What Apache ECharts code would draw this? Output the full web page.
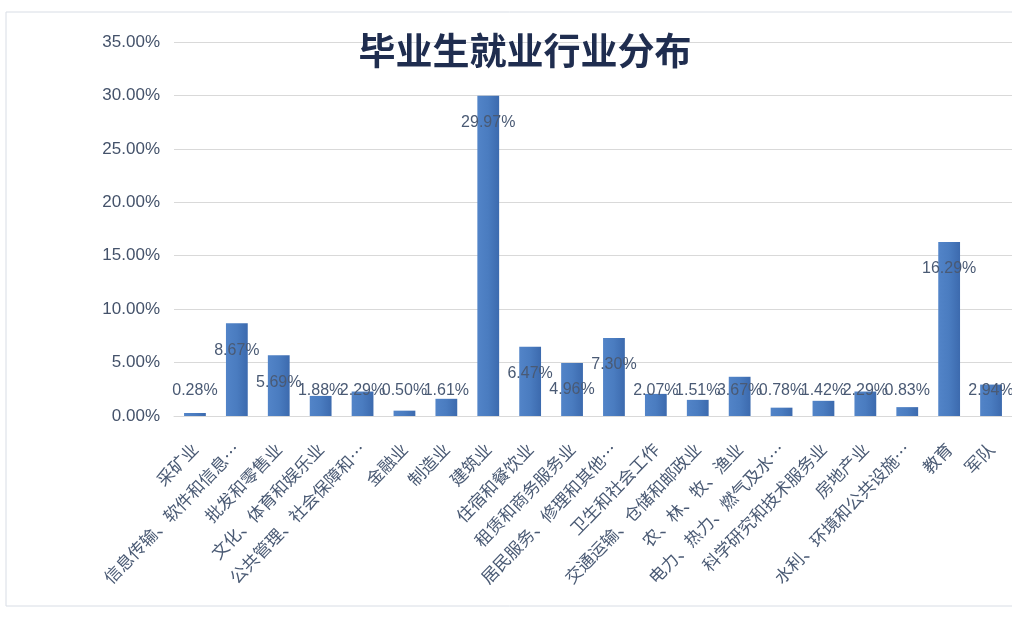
<!DOCTYPE html>
<html><head><meta charset="utf-8">
<script src="https://cdn.jsdelivr.net/npm/echarts@6/dist/echarts.min.js"></script>
<style>html,body{margin:0;padding:0;background:#fff}#c{width:1012px;height:624px}</style>
</head><body><div id="c"></div>
<script>
const categories = ['采矿业','信息传输、软件和信息…','批发和零售业','文化、体育和娱乐业','公共管理、社会保障和…','金融业','制造业','建筑业','住宿和餐饮业','租赁和商务服务业','居民服务、修理和其他…','卫生和社会工作','交通运输、仓储和邮政业','农、林、牧、渔业','电力、热力、燃气及水…','科学研究和技术服务业','房地产业','水利、环境和公共设施…','教育','军队'];
const values = [0.28,8.67,5.69,1.88,2.29,0.50,1.61,29.97,6.47,4.96,7.30,2.07,1.51,3.67,0.78,1.42,2.29,0.83,16.29,2.94];
const yTicks = {min:0, max:35, interval:5};
const title = '毕业生就业行业分布';

const chart = echarts.init(document.getElementById('c'));
const data = values.map(v => ({
  value: v,
  label: v >= 4.9 ? {position:'insideTop', distance:19} : {position:'insideBottom', distance:17}
}));
chart.setOption({
  backgroundColor:'#fff',
  animation:false,
  title:{text:title,left:520,top:27,textAlign:'center',textStyle:{fontFamily:'Noto Sans CJK SC',fontSize:37,fontWeight:'bold',color:'#1f2d4f'}},
  graphic:[{type:'rect',shape:{x:6,y:12,width:1020,height:594},style:{fill:'none',stroke:'#d8dde5',lineWidth:1},silent:true,z:-1}],
  grid:{left:174,right:-10,top:42,bottom:208,containLabel:false},
  xAxis:{type:'category',data:categories,
    axisLine:{lineStyle:{color:'#d9d9d9'}},axisTick:{show:false},
    axisLabel:{interval:0,rotate:46,margin:30,fontSize:17,color:'#4a5a74',fontFamily:'Noto Sans CJK SC'}},
  yAxis:{type:'value',min:yTicks.min,max:yTicks.max,interval:yTicks.interval,
    axisLine:{show:false},axisTick:{show:false},
    splitLine:{lineStyle:{color:'#d9d9d9'}},
    axisLabel:{fontSize:17,color:'#44526a',margin:14,fontFamily:'Liberation Sans',formatter:v=>v.toFixed(2)+'%'}},
  series:[{type:'bar',data:data,barWidth:'52%',
    itemStyle:{color:new echarts.graphic.LinearGradient(0,0,1,0,[{offset:0,color:'#5284c8'},{offset:0.5,color:'#4a7cc0'},{offset:1,color:'#3c6aae'}])},
    label:{show:true,fontSize:16,color:'#4a5a74',fontFamily:'Liberation Sans',formatter:p=>p.value.toFixed(2)+'%'}}]
});
</script></body></html>
